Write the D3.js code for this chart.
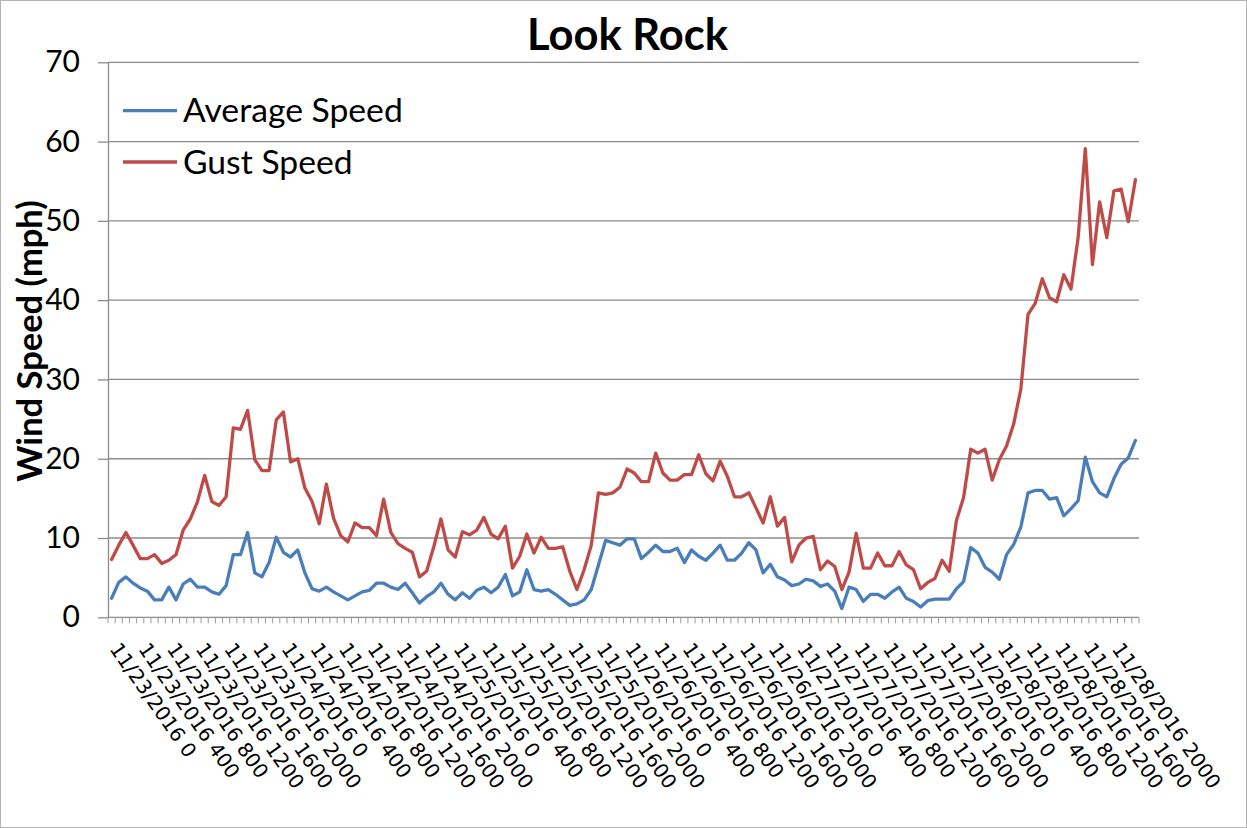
<!DOCTYPE html>
<html>
<head>
<meta charset="utf-8">
<script src="https://cdn.jsdelivr.net/npm/d3@7"></script>
<style>
  body { margin: 0; background: #fff; }
  svg { display: block; }
</style>
</head>
<body>
<svg id="chart" width="1247" height="828"></svg>
<script>
// Hourly readings at Look Rock, 11/23/2016 0:00 through 11/28/2016 23:00
const days = ["11/23/2016", "11/24/2016", "11/25/2016", "11/26/2016", "11/27/2016", "11/28/2016"];
const hours = [0, 100, 200, 300, 400, 500, 600, 700, 800, 900, 1000, 1100,
               1200, 1300, 1400, 1500, 1600, 1700, 1800, 1900, 2000, 2100, 2200, 2300];
const categories = days.flatMap(d => hours.map(h => d + " " + h));

const averageSpeed = [
  2.4, 4.4, 5.1, 4.3, 3.7, 3.3, 2.2, 2.2, 3.8, 2.2, 4.2, 4.8,
  3.8, 3.8, 3.2, 2.9, 4.0, 7.9, 7.9, 10.7, 5.6, 5.1, 6.9, 10.1,
  8.2, 7.6, 8.5, 5.6, 3.6, 3.3, 3.8, 3.2, 2.7, 2.2, 2.7, 3.2,
  3.4, 4.3, 4.3, 3.8, 3.5, 4.3, 3.1, 1.8, 2.6, 3.2, 4.3, 2.9,
  2.2, 3.1, 2.4, 3.4, 3.8, 3.1, 3.8, 5.4, 2.7, 3.2, 6.0, 3.5,
  3.3, 3.5, 2.9, 2.2, 1.5, 1.7, 2.2, 3.5, 6.6, 9.7, 9.4, 9.1,
  9.9, 9.9, 7.4, 8.2, 9.1, 8.3, 8.3, 8.7, 6.9, 8.5, 7.7, 7.2,
  8.1, 9.1, 7.2, 7.2, 8.1, 9.4, 8.5, 5.6, 6.7, 5.1, 4.7, 4.0,
  4.2, 4.8, 4.6, 3.9, 4.2, 3.3, 1.1, 3.8, 3.5, 2.0, 2.9, 2.9,
  2.4, 3.2, 3.8, 2.4, 2.0, 1.3, 2.1, 2.3, 2.3, 2.3, 3.6, 4.5,
  8.8, 8.1, 6.3, 5.7, 4.8, 7.9, 9.2, 11.4, 15.7, 16.0, 16.0, 14.9,
  15.1, 12.8, 13.7, 14.7, 20.2, 17.1, 15.7, 15.2, 17.5, 19.3, 20.1, 22.3
];

const gustSpeed = [
  7.3, 9.1, 10.7, 9.1, 7.4, 7.4, 7.9, 6.8, 7.2, 7.9, 11.0, 12.4,
  14.6, 17.9, 14.6, 14.1, 15.2, 23.9, 23.7, 26.1, 19.9, 18.5, 18.5, 24.9,
  25.9, 19.6, 20.0, 16.3, 14.6, 11.8, 16.8, 12.5, 10.3, 9.5, 11.9, 11.3,
  11.3, 10.3, 14.9, 10.7, 9.3, 8.7, 8.2, 5.1, 5.8, 8.9, 12.4, 8.5,
  7.6, 10.8, 10.4, 11.0, 12.6, 10.5, 9.9, 11.5, 6.2, 7.7, 10.5, 8.1,
  10.1, 8.7, 8.7, 8.9, 5.8, 3.5, 6.0, 9.1, 15.7, 15.5, 15.7, 16.4,
  18.7, 18.2, 17.1, 17.1, 20.7, 18.2, 17.3, 17.3, 18.0, 18.0, 20.5, 18.1,
  17.2, 19.7, 17.8, 15.2, 15.2, 15.7, 13.8, 11.9, 15.2, 11.5, 12.6, 7.0,
  9.1, 10.0, 10.2, 6.0, 7.1, 6.4, 3.5, 5.7, 10.6, 6.2, 6.2, 8.1,
  6.5, 6.5, 8.3, 6.6, 6.0, 3.6, 4.4, 4.9, 7.2, 5.8, 12.2, 15.1,
  21.2, 20.7, 21.2, 17.3, 19.9, 21.6, 24.4, 28.8, 38.2, 39.6, 42.7, 40.3,
  39.8, 43.2, 41.4, 47.9, 59.1, 44.5, 52.4, 47.9, 53.8, 54.0, 49.9, 55.2
];

const yTicks = [0, 10, 20, 30, 40, 50, 60, 70];
const labelEvery = 4;
const seriesNames = ["Average Speed", "Gust Speed"];
const seriesColors = ["#4a7ebb", "#be4b48"];

const svg = d3.select("#chart");
const W = 1247, H = 828;
const plot = { left: 108, right: 1139, top: 62.3, bottom: 617.3 };
const gridColor = "#8c8c8c";
const mainFont = "Lato, 'Open Sans', sans-serif";

// outer frame
svg.append("rect")
  .attr("x", 0.5).attr("y", 0.5)
  .attr("width", W - 1).attr("height", H - 1)
  .attr("fill", "#fff").attr("stroke", "#b4b4b4");

const x = d3.scaleBand().domain(categories).range([plot.left, plot.right]).padding(0);
const y = d3.scaleLinear().domain([0, 70]).range([plot.bottom, plot.top]);

// horizontal gridlines
svg.append("g").selectAll("line")
  .data(yTicks.filter(t => t > 0))
  .join("line")
  .attr("x1", plot.left).attr("x2", plot.right)
  .attr("y1", d => y(d)).attr("y2", d => y(d))
  .attr("stroke", gridColor).attr("stroke-width", 1.3);

// y axis with labels
const yAxis = svg.append("g")
  .attr("transform", `translate(${plot.left},0)`)
  .call(d3.axisLeft(y).tickValues(yTicks).tickSize(10).tickPadding(18).tickSizeOuter(0));
yAxis.select(".domain").attr("stroke", gridColor).attr("stroke-width", 1.3);
yAxis.selectAll(".tick line").attr("stroke", gridColor).attr("stroke-width", 1.3);
yAxis.selectAll(".tick text")
  .attr("font-family", mainFont).attr("font-size", 30).attr("fill", "#000");

// x axis line and category ticks
const xAxis = svg.append("g");
xAxis.append("line")
  .attr("x1", plot.left).attr("x2", plot.right)
  .attr("y1", plot.bottom).attr("y2", plot.bottom)
  .attr("stroke", gridColor).attr("stroke-width", 1.3);
const boundaries = categories.map(c => x(c)).concat([plot.right]);
xAxis.selectAll("line.tick")
  .data(boundaries)
  .join("line")
  .attr("class", "tick")
  .attr("x1", d => d).attr("x2", d => d)
  .attr("y1", plot.bottom).attr("y2", plot.bottom + 6)
  .attr("stroke", "#9a9a9a").attr("stroke-width", 1);

// rotated category labels
xAxis.selectAll("text")
  .data(categories.filter((c, i) => i % labelEvery === 0))
  .join("text")
  .attr("transform", d => `translate(${x(d) + 1},649) rotate(55)`)
  .attr("font-family", "'DejaVu Sans', sans-serif")
  .attr("font-size", 20)
  .attr("fill", "#000")
  .text(d => d);

// series lines
const line = d3.line()
  .x((d, i) => x(categories[i]) + x.bandwidth() / 2)
  .y(d => y(d));

[averageSpeed, gustSpeed].forEach((vals, k) => {
  svg.append("path")
    .datum(vals)
    .attr("fill", "none")
    .attr("stroke", seriesColors[k])
    .attr("stroke-width", 3.3)
    .attr("stroke-linejoin", "round")
    .attr("stroke-linecap", "round")
    .attr("d", line);
});

// legend
const legend = svg.append("g");
const legendY = [110.7, 162];
seriesNames.forEach((name, k) => {
  legend.append("line")
    .attr("x1", 123).attr("x2", 177)
    .attr("y1", legendY[k]).attr("y2", legendY[k])
    .attr("stroke", seriesColors[k]).attr("stroke-width", 3.3);
  legend.append("text")
    .attr("x", 183).attr("y", legendY[k])
    .attr("dy", "0.35em")
    .attr("font-family", mainFont).attr("font-size", 33.7)
    .attr("fill", "#000")
    .text(name);
});

// title
svg.append("text")
  .attr("x", 627.5).attr("y", 50)
  .attr("text-anchor", "middle")
  .attr("font-family", mainFont).attr("font-weight", "bold")
  .attr("font-size", 43.5)
  .attr("fill", "#000")
  .text("Look Rock");

// y axis title
svg.append("text")
  .attr("transform", "translate(42,341) rotate(-90)")
  .attr("text-anchor", "middle")
  .attr("font-family", mainFont).attr("font-weight", "bold")
  .attr("font-size", 34.5)
  .attr("fill", "#000")
  .text("Wind Speed (mph)");
</script>
</body>
</html>
